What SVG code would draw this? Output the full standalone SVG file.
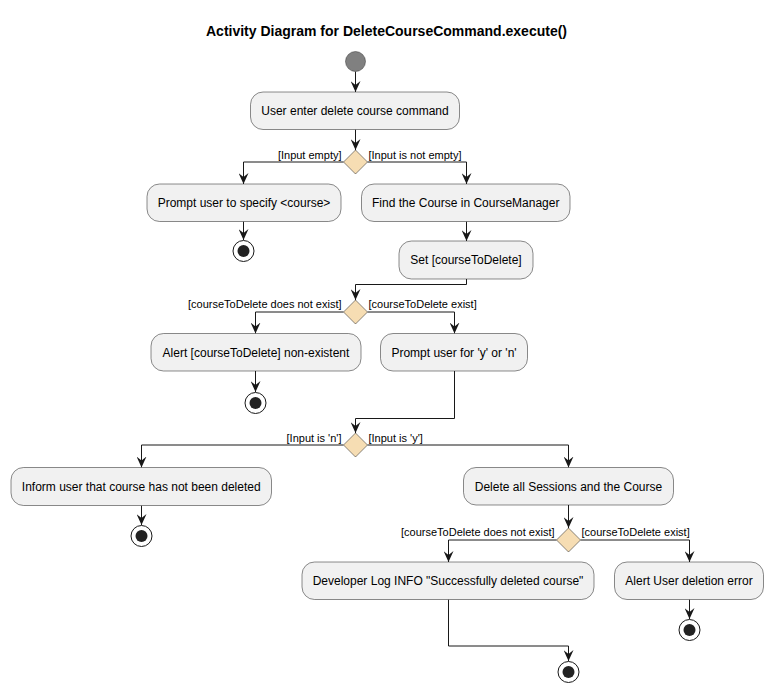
<svg xmlns="http://www.w3.org/2000/svg" width="773" height="693" viewBox="0 0 773 693">
<defs>
<marker id="ah" markerUnits="userSpaceOnUse" viewBox="0 0 11 10" refX="11" refY="5" markerWidth="11" markerHeight="10" orient="auto">
<path d="M0,0 L11,5 L0,10 L4,5 Z" fill="#181818"/>
</marker>
</defs>
<style>
.box{fill:#F1F1F1;stroke:#181818;stroke-width:0.5}
.dia{fill:#F6DDB3;stroke:#181818;stroke-width:0.5}
.t{font-family:"Liberation Sans",Arial,sans-serif;font-size:12px;fill:#000;text-anchor:middle}
.lb{font-family:"Liberation Sans",Arial,sans-serif;font-size:11px;fill:#000}
.e{text-anchor:end}
.ln{fill:none;stroke:#181818;stroke-width:1}
.stopo{fill:#FFFFFF;stroke:#181818;stroke-width:1}
.stopi{fill:#222222}
</style>
<rect width="773" height="693" fill="#FFFFFF"/>
<text x="386.5" y="36" font-family="'Liberation Sans',Arial,sans-serif" font-size="14" font-weight="bold" text-anchor="middle" fill="#000">Activity Diagram for DeleteCourseCommand.execute()</text>

<g id="connectors">
<path class="ln" marker-end="url(#ah)" d="M355.5,71.5 L355.5,92"/>
<path class="ln" marker-end="url(#ah)" d="M355.5,129.5 L355.5,150"/>
<path class="ln" marker-end="url(#ah)" d="M343.5,162 L243.5,162 L243.5,184"/>
<path class="ln" marker-end="url(#ah)" d="M367.5,162 L466.5,162 L466.5,184"/>
<path class="ln" marker-end="url(#ah)" d="M243.5,221.5 L243.5,240"/>
<path class="ln" marker-end="url(#ah)" d="M466.5,221.5 L466.5,241"/>
<path class="ln" marker-end="url(#ah)" d="M466.5,279 L466.5,284.5 L355.5,284.5 L355.5,300"/>
<path class="ln" marker-end="url(#ah)" d="M343.5,312 L255.5,312 L255.5,333.5"/>
<path class="ln" marker-end="url(#ah)" d="M367.5,312 L454.5,312 L454.5,333.5"/>
<path class="ln" marker-end="url(#ah)" d="M255.5,371 L255.5,392"/>
<path class="ln" marker-end="url(#ah)" d="M454.5,371 L454.5,418.5 L355.5,418.5 L355.5,433"/>
<path class="ln" marker-end="url(#ah)" d="M343.5,445 L141.5,445 L141.5,467.5"/>
<path class="ln" marker-end="url(#ah)" d="M367.5,445 L568.5,445 L568.5,467.5"/>
<path class="ln" marker-end="url(#ah)" d="M141.5,505.5 L141.5,525"/>
<path class="ln" marker-end="url(#ah)" d="M568.5,505 L568.5,528"/>
<path class="ln" marker-end="url(#ah)" d="M556.5,540 L448.5,540 L448.5,562"/>
<path class="ln" marker-end="url(#ah)" d="M580.5,540 L689.5,540 L689.5,562"/>
<path class="ln" marker-end="url(#ah)" d="M448.5,599.5 L448.5,646 L568.5,646 L568.5,661"/>
<path class="ln" marker-end="url(#ah)" d="M689.5,599.5 L689.5,619"/>
<text class="lb e" x="341.5" y="158.5">[Input empty]</text>
<text class="lb" x="368.5" y="158.5">[Input is not empty]</text>
<text class="lb e" x="341.5" y="308">[courseToDelete does not exist]</text>
<text class="lb" x="368.5" y="308">[courseToDelete exist]</text>
<text class="lb e" x="341.5" y="442">[Input is 'n']</text>
<text class="lb" x="368.5" y="442">[Input is 'y']</text>
<text class="lb e" x="554.5" y="536">[courseToDelete does not exist]</text>
<text class="lb" x="581.5" y="536">[courseToDelete exist]</text>
</g>

<g id="start"><circle cx="355.5" cy="61.5" r="10" fill="#808080" stroke="#333333" stroke-width="0.5"/></g>

<g id="n-user-enter"><rect class="box" x="250.5" y="92" width="209" height="37.5" rx="12.5"/><text class="t" x="355" y="115">User enter delete course command</text></g>
<g id="d-input"><polygon class="dia" points="355.5,150 367.5,162 355.5,174 343.5,162"/></g>
<g id="n-prompt-course"><rect class="box" x="147" y="184" width="194" height="37.5" rx="12.5"/><text class="t" x="244" y="207">Prompt user to specify &lt;course&gt;</text></g>
<g id="stop1"><circle class="stopo" cx="243.5" cy="251" r="10.5"/><circle class="stopi" cx="243.5" cy="251" r="6"/></g>
<g id="n-find"><rect class="box" x="361.5" y="184" width="208.5" height="37.5" rx="12.5"/><text class="t" x="465.75" y="207">Find the Course in CourseManager</text></g>
<g id="n-set"><rect class="box" x="399" y="241" width="134" height="38" rx="12.5"/><text class="t" x="466" y="264">Set [courseToDelete]</text></g>
<g id="d-exist"><polygon class="dia" points="355.5,300 367.5,312 355.5,324 343.5,312"/></g>
<g id="n-alert-nonexist"><rect class="box" x="151" y="333.5" width="210" height="37.5" rx="12.5"/><text class="t" x="256" y="356.5">Alert [courseToDelete] non-existent</text></g>
<g id="stop2"><circle class="stopo" cx="255.5" cy="403" r="10.5"/><circle class="stopi" cx="255.5" cy="403" r="6"/></g>
<g id="n-prompt-yn"><rect class="box" x="380.5" y="333.5" width="147" height="37.5" rx="12.5"/><text class="t" x="454" y="356.5">Prompt user for 'y' or 'n'</text></g>
<g id="d-yn"><polygon class="dia" points="355.5,433 367.5,445 355.5,457 343.5,445"/></g>
<g id="n-inform"><rect class="box" x="11" y="467.5" width="260.5" height="38" rx="12.5"/><text class="t" x="141.25" y="491">Inform user that course has not been deleted</text></g>
<g id="stop3"><circle class="stopo" cx="141.5" cy="536" r="10.5"/><circle class="stopi" cx="141.5" cy="536" r="6"/></g>
<g id="n-delete"><rect class="box" x="463.5" y="467.5" width="210" height="37.5" rx="12.5"/><text class="t" x="568.5" y="490.5">Delete all Sessions and the Course</text></g>
<g id="d-exist2"><polygon class="dia" points="568.5,528 580.5,540 568.5,552 556.5,540"/></g>
<g id="n-devlog"><rect class="box" x="302" y="562" width="292" height="37.5" rx="12.5"/><text class="t" x="448" y="585">Developer Log INFO "Successfully deleted course"</text></g>
<g id="stop4"><circle class="stopo" cx="568.5" cy="672" r="10.5"/><circle class="stopi" cx="568.5" cy="672" r="6"/></g>
<g id="n-alert-user"><rect class="box" x="614.5" y="562" width="149" height="37.5" rx="12.5"/><text class="t" x="689" y="585">Alert User deletion error</text></g>
<g id="stop5"><circle class="stopo" cx="689.5" cy="630" r="10.5"/><circle class="stopi" cx="689.5" cy="630" r="6"/></g>
</svg>
